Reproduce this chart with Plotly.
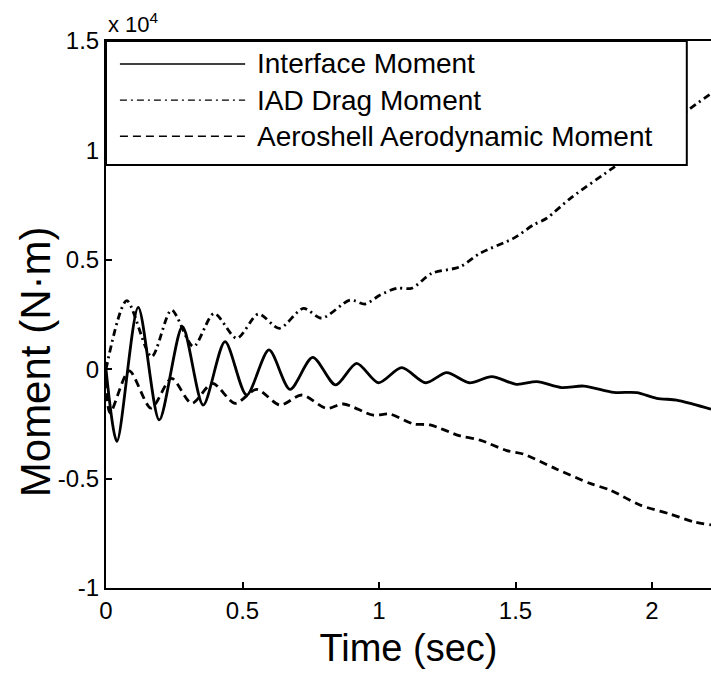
import plotly.graph_objects as go

# ---- data (moment values in units of 1e4 N·m) ----
series_names = ["Interface Moment", "IAD Drag Moment", "Aeroshell Aerodynamic Moment"]

t_interface = [0, 0.04, 0.118, 0.195, 0.28, 0.356, 0.436, 0.515, 0.597, 0.674, 0.757, 0.841,
               0.918, 0.998, 1.083, 1.171, 1.248, 1.331, 1.413, 1.504, 1.578, 1.669, 1.75,
               1.86, 1.944, 2.017, 2.09, 2.15, 2.216]
m_interface = [0, -0.33, 0.283, -0.232, 0.194, -0.164, 0.126, -0.118, 0.088, -0.092, 0.054, -0.072,
               0.027, -0.062, 0.007, -0.062, -0.016, -0.062, -0.034, -0.069, -0.057, -0.084, -0.077,
               -0.106, -0.107, -0.133, -0.141, -0.16, -0.183]

t_iad = [0, 0.076, 0.167, 0.24, 0.32, 0.396, 0.479, 0.558, 0.635, 0.723, 0.79, 0.894, 0.949,
         1.004, 1.065, 1.12, 1.193, 1.297, 1.37, 1.492, 1.565, 1.614, 1.7, 1.864, 1.95, 2.04,
         2.128, 2.216]
m_iad = [0, 0.313, 0.057, 0.27, 0.103, 0.255, 0.141, 0.252, 0.187, 0.278, 0.233, 0.316, 0.298,
         0.339, 0.37, 0.37, 0.438, 0.468, 0.53, 0.598, 0.659, 0.69, 0.78, 0.926, 1.0, 1.09,
         1.18, 1.26]

t_aero = [0, 0.015, 0.085, 0.165, 0.24, 0.314, 0.39, 0.473, 0.552, 0.637, 0.717, 0.808, 0.869,
          0.979, 1.04, 1.126, 1.187, 1.297, 1.37, 1.468, 1.529, 1.651, 1.773, 1.846, 1.956,
          2.066, 2.151, 2.216]
m_aero = [-0.05, -0.2, -0.008, -0.178, -0.042, -0.156, -0.065, -0.156, -0.092, -0.164, -0.118,
          -0.179, -0.159, -0.21, -0.205, -0.25, -0.255, -0.305, -0.324, -0.372, -0.388, -0.457,
          -0.522, -0.552, -0.621, -0.662, -0.697, -0.712]

x_ticks = [0, 0.5, 1, 1.5, 2]
x_ticklabels = ["0", "0.5", "1", "1.5", "2"]
y_ticks = [-1, -0.5, 0, 0.5, 1, 1.5]
y_ticklabels = ["-1", "-0.5", "0", "0.5", "1", "1.5"]

dashes = ["solid", "7px,4px,2px,4px", "8px,5px"]
font = "Liberation Sans, Arial, sans-serif"

fig = go.Figure()
for tx, my, name, dash in zip([t_interface, t_iad, t_aero], [m_interface, m_iad, m_aero],
                              series_names, dashes):
    fig.add_trace(go.Scatter(x=tx, y=my, mode="lines", name=name, showlegend=False,
                             line=dict(color="black", width=2.8, dash=dash,
                                       shape="spline", smoothing=0.8)))

# legend box (drawn manually to match the long line samples)
shapes = [dict(type="rect", xref="paper", yref="paper", x0=0, x1=0.96, y0=0.7733, y1=1,
               fillcolor="white", line=dict(color="black", width=2), layer="above")]
annotations = []
row_y = [0.958, 0.892, 0.826]
for name, dash, yy in zip(series_names, dashes, row_y):
    shapes.append(dict(type="line", xref="paper", yref="paper", x0=0.023, x1=0.23, y0=yy, y1=yy,
                       line=dict(color="black", width=1.4, dash=dash), layer="above"))
    annotations.append(dict(xref="paper", yref="paper", x=0.246, y=yy, xanchor="left",
                            yanchor="middle", text=name, showarrow=False,
                            font=dict(family=font, size=28, color="black")))

annotations.append(dict(xref="paper", yref="paper", x=0.0, y=1.0, xanchor="left",
                        yanchor="bottom", yshift=2, text="x 10<sup>4</sup>", showarrow=False,
                        font=dict(family=font, size=22, color="black")))

# y-axis title placed as annotation
annotations.append(dict(xref="paper", yref="paper", x=-0.117, y=1 - (362 - 41) / 547,
                        xanchor="center", yanchor="middle", textangle=-90,
                        text="Moment (N·m)", showarrow=False,
                        font=dict(family=font, size=42, color="black")))

fig.update_layout(
    width=711, height=681,
    margin=dict(l=106, r=0, t=41, b=93),
    paper_bgcolor="white", plot_bgcolor="white",
    font=dict(family=font, color="black"),
    shapes=shapes, annotations=annotations,
    xaxis=dict(range=[0, 2.216], tickvals=x_ticks, ticktext=x_ticklabels,
               ticks="inside", ticklen=6, tickwidth=1.5, tickcolor="black",
               showline=True, linecolor="black", linewidth=2, mirror="ticks",
               showgrid=False, zeroline=False, tickfont=dict(size=24, family=font),
               title=dict(text="Time (sec)", font=dict(size=38, family=font), standoff=12)),
    yaxis=dict(range=[-1, 1.5], tickvals=y_ticks, ticktext=y_ticklabels,
               ticks="inside", ticklen=6, tickwidth=1.5, tickcolor="black",
               showline=True, linecolor="black", linewidth=2,
               showgrid=False, zeroline=False, tickfont=dict(size=24, family=font)),
)

fig.write_html("out.html")
